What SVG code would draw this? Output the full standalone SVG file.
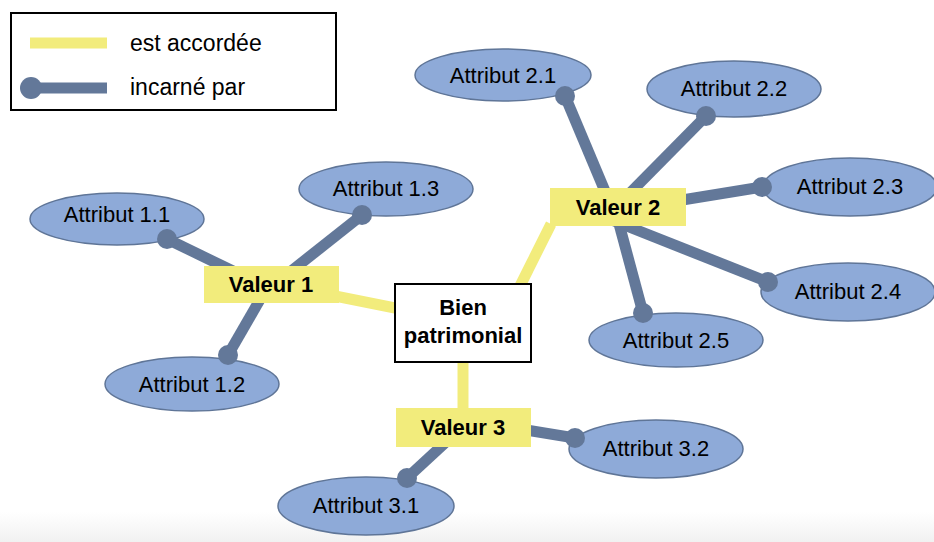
<svg xmlns="http://www.w3.org/2000/svg" width="934" height="542" viewBox="0 0 934 542">
<defs>
<linearGradient id="shade" x1="0" y1="0" x2="0" y2="1">
<stop offset="0" stop-color="#ffffff"/>
<stop offset="1" stop-color="#f1f1f1"/>
</linearGradient>
</defs>
<style>
.attr ellipse{fill:#8eaad8;stroke:#5f7597;stroke-width:1.5}
.attr text,.legend text{font-family:"Liberation Sans",Arial,sans-serif;font-size:22px;fill:#000;text-anchor:middle}
.legend text{text-anchor:start;font-size:23px}
.val rect{fill:#f2ec7c}
.val text,.bien text{font-family:"Liberation Sans",Arial,sans-serif;font-size:22px;font-weight:bold;fill:#000;text-anchor:middle}
.bien rect{fill:#fff;stroke:#000;stroke-width:2}
.acc{stroke:#f2ec7c;stroke-width:11;fill:none}
.inc{stroke:#637899;stroke-width:11;fill:none}
.dot{fill:#637899}
</style>
<rect x="0" y="0" width="934" height="542" fill="#fff"/>
<rect x="0" y="512" width="934" height="30" fill="url(#shade)"/>

<g id="legend" class="legend">
<rect x="11" y="13" width="325" height="97" fill="#fff" stroke="#000" stroke-width="2"/>
<line class="acc" x1="30" y1="43" x2="107" y2="43"/>
<line class="inc" x1="30" y1="88" x2="107" y2="88"/>
<circle class="dot" cx="31" cy="88" r="11"/>
<text x="130" y="51">est accordée</text>
<text x="130" y="95">incarné par</text>
</g>

<g id="attr11" class="attr"><ellipse cx="117" cy="219" rx="87" ry="26"/><text x="117" y="222">Attribut 1.1</text></g>
<g id="attr12" class="attr"><ellipse cx="192" cy="384" rx="87" ry="27"/><text x="192" y="392">Attribut 1.2</text></g>
<g id="attr13" class="attr"><ellipse cx="386" cy="189" rx="87" ry="27"/><text x="386" y="196">Attribut 1.3</text></g>
<g id="attr21" class="attr"><ellipse cx="503" cy="75" rx="88" ry="26"/><text x="503" y="83">Attribut 2.1</text></g>
<g id="attr22" class="attr"><ellipse cx="734" cy="89" rx="87" ry="28"/><text x="734" y="96">Attribut 2.2</text></g>
<g id="attr23" class="attr"><ellipse cx="850" cy="187" rx="87" ry="29"/><text x="850" y="194">Attribut 2.3</text></g>
<g id="attr24" class="attr"><ellipse cx="848" cy="292" rx="87" ry="29"/><text x="848" y="299">Attribut 2.4</text></g>
<g id="attr25" class="attr"><ellipse cx="676" cy="340" rx="87" ry="27"/><text x="676" y="348">Attribut 2.5</text></g>
<g id="attr31" class="attr"><ellipse cx="366" cy="506" rx="88" ry="29"/><text x="366" y="513">Attribut 3.1</text></g>
<g id="attr32" class="attr"><ellipse cx="656" cy="449" rx="87" ry="29"/><text x="656" y="456">Attribut 3.2</text></g>

<g id="connectors">
<line class="acc" x1="335" y1="296" x2="400" y2="309"/>
<line class="acc" x1="551" y1="224" x2="518" y2="290"/>
<line class="acc" x1="463" y1="358" x2="463" y2="412"/>
<line class="inc" x1="167" y1="239" x2="235" y2="272"/>
<line class="inc" x1="362" y1="215" x2="290" y2="272"/>
<line class="inc" x1="228" y1="355" x2="262" y2="296"/>
<line class="inc" x1="565" y1="96" x2="607" y2="196"/>
<line class="inc" x1="706" y1="116" x2="626" y2="197"/>
<line class="inc" x1="762" y1="187" x2="676" y2="201"/>
<line class="inc" x1="768" y1="282" x2="614" y2="221"/>
<line class="inc" x1="643" y1="313" x2="618" y2="220"/>
<line class="inc" x1="575" y1="438" x2="520" y2="429"/>
<line class="inc" x1="407" y1="478" x2="446" y2="442"/>
<circle class="dot" cx="167" cy="239" r="10"/>
<circle class="dot" cx="362" cy="215" r="10"/>
<circle class="dot" cx="228" cy="355" r="10"/>
<circle class="dot" cx="565" cy="96" r="10"/>
<circle class="dot" cx="706" cy="116" r="10"/>
<circle class="dot" cx="762" cy="187" r="10"/>
<circle class="dot" cx="768" cy="282" r="10"/>
<circle class="dot" cx="643" cy="313" r="10"/>
<circle class="dot" cx="575" cy="438" r="10"/>
<circle class="dot" cx="407" cy="478" r="10"/>
</g>

<g id="valeur1" class="val"><rect x="204" y="266" width="135" height="37"/><text x="271" y="292">Valeur 1</text></g>
<g id="valeur2" class="val"><rect x="550" y="188" width="136" height="38"/><text x="618" y="215">Valeur 2</text></g>
<g id="valeur3" class="val"><rect x="396" y="408" width="135" height="39"/><text x="463" y="435">Valeur 3</text></g>
<g id="bien" class="bien"><rect x="395" y="284" width="136" height="78"/><text x="463" y="315">Bien</text><text x="463" y="343">patrimonial</text></g>
</svg>
